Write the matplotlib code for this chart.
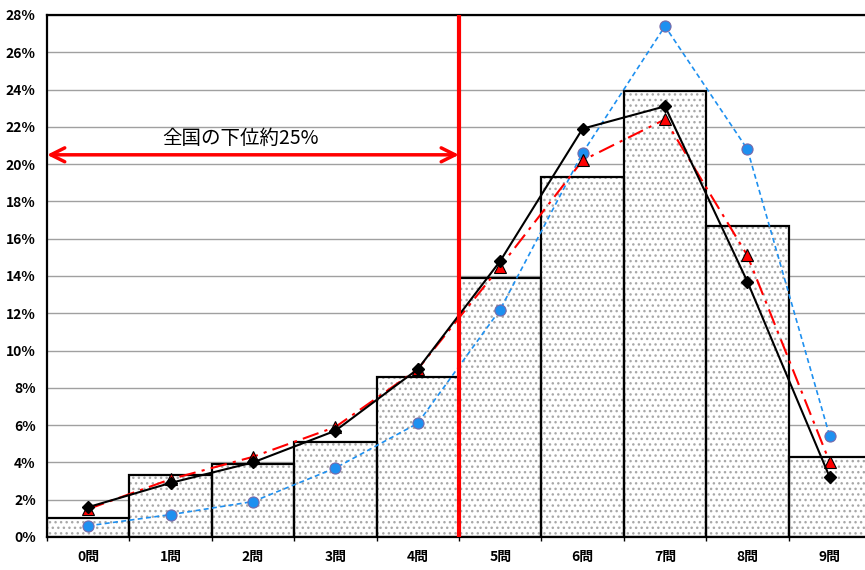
import matplotlib
matplotlib.use("Agg")
import matplotlib.pyplot as plt
import numpy as np

plt.rcParams["font.family"] = ["Noto Sans CJK JP", "DejaVu Sans"]

# data (percent)
categories = ["0問", "1問", "2問", "3問", "4問", "5問", "6問", "7問", "8問", "9問"]
bar_values = [1.0, 3.3, 3.9, 5.1, 8.6, 13.9, 19.3, 23.9, 16.7, 4.3]
black_values = [1.6, 2.9, 4.0, 5.7, 9.0, 14.8, 21.9, 23.1, 13.7, 3.2]
red_values = [1.5, 3.1, 4.3, 5.9, 9.0, 14.5, 20.2, 22.4, 15.1, 4.0]
blue_values = [0.6, 1.2, 1.9, 3.7, 6.1, 12.2, 20.6, 27.4, 20.8, 5.4]
yticks = list(range(0, 29, 2))
cut_x = 4.5
arrow_y = 20.5
note = "全国の下位約25%"

x = np.arange(len(categories))

fig = plt.figure(figsize=(8.65, 5.70), dpi=100)
# axes runs slightly past the right edge, like the original
ax = fig.add_axes([0.0543, 0.0579, 0.9526, 0.9158])

# bars: dotted fill then black outline
ax.bar(x, bar_values, width=1.0, color="white", edgecolor="#a8a8a8",
       hatch="...", linewidth=0, zorder=2)
ax.bar(x, bar_values, width=1.0, fill=False, edgecolor="black",
       linewidth=1.6, zorder=3)

ax.plot(x, blue_values, color="#1e90f0", linestyle=(0, (3, 2)), linewidth=1.2,
        marker="o", markersize=8, markerfacecolor="#1e90f0",
        markeredgecolor="#7a6aa8", markeredgewidth=0.8, zorder=5)
ax.plot(x, red_values, color="red", linestyle=(0, (8, 3, 1.5, 3)), linewidth=1.5,
        marker="^", markersize=8, markerfacecolor="red",
        markeredgecolor="black", markeredgewidth=0.8, zorder=6)
ax.plot(x, black_values, color="black", linestyle="-", linewidth=1.5,
        marker="D", markersize=6, markerfacecolor="black",
        markeredgecolor="black", zorder=7)

# cut line and arrow
ax.axvline(cut_x, color="red", linewidth=3, zorder=8)
ax.annotate("", xy=(-0.5, arrow_y), xytext=(cut_x, arrow_y),
            arrowprops=dict(arrowstyle="<->", color="red", lw=2.5,
                            mutation_scale=25, shrinkA=0, shrinkB=0),
            zorder=8)
ax.text(1.85, arrow_y + 0.3, note, ha="center", va="bottom",
        fontsize=14, color="black", zorder=9)

ax.set_xlim(-0.5, len(categories) - 0.5)
ax.set_ylim(0, 28)
ax.set_yticks(yticks)
ax.set_yticklabels([f"{v}%" for v in yticks], fontweight="bold", fontsize=10)
ax.set_xticks(x)
ax.set_xticklabels(categories, fontweight="bold", fontsize=10)
ax.tick_params(axis="x", length=0, pad=9)
ax.tick_params(axis="y", length=0, pad=8)
ax.set_xticks(np.arange(-0.5, len(categories)), minor=True)
ax.tick_params(axis="x", which="minor", length=3, width=1, direction="out")

ax.yaxis.grid(True, color="#a0a0a0", linewidth=1)
ax.set_axisbelow(True)
for side in ["left", "top", "bottom"]:
    ax.spines[side].set_linewidth(1.6)
    ax.spines[side].set_color("black")
ax.spines["right"].set_visible(False)

fig.savefig("out.png", dpi=100)
